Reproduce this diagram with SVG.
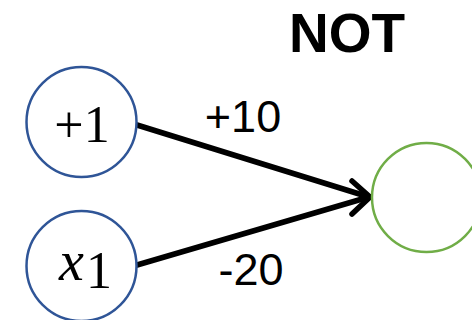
<svg xmlns="http://www.w3.org/2000/svg" width="472" height="320" viewBox="0 0 472 320">
<style>
.in{fill:#fff;stroke:#2F5597;stroke-width:2.5}
.out{fill:#fff;stroke:#70AD47;stroke-width:2.5}
.edge{stroke:#000;stroke-width:5.5;fill:none;stroke-linecap:round}
.lbl{font-family:"Liberation Sans",Arial,sans-serif;font-size:45px;fill:#000;text-anchor:middle}
.math{font-family:"Liberation Serif","Times New Roman",serif;fill:#000}
</style>
<rect width="472" height="320" fill="#fff"/>
<text x="347" y="52" font-family="'Liberation Sans',Arial,sans-serif" font-weight="bold" font-size="55" text-anchor="middle">NOT</text>
<g id="edges">
<line class="edge" x1="137" y1="125" x2="369" y2="197"/>
<line class="edge" x1="137" y1="265" x2="369" y2="197"/>
<polyline class="edge" points="352,181 370,197 352,214" stroke-linejoin="miter"/>
<text class="lbl" x="243" y="132">+10</text>
<text class="lbl" x="251" y="285">-20</text>
</g>
<g id="bias">
<circle class="in" cx="81.5" cy="122" r="55"/>
<text class="math" x="82" y="142" font-size="52" text-anchor="middle">+1</text>
</g>
<g id="x1">
<circle class="in" cx="81.5" cy="266" r="55"/>
<text class="math" x="59" y="280" font-size="56" font-style="italic">x</text>
<text class="math" x="86" y="288" font-size="52">1</text>
</g>
<g id="output">
<circle class="out" cx="426.5" cy="197.5" r="54.5"/>
</g>
</svg>
